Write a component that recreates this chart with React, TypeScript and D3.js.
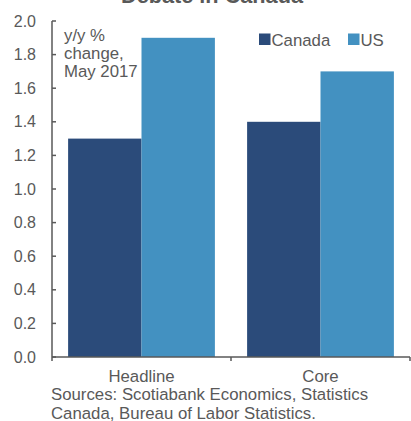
import React from "react";
import * as d3 from "d3";

const categories = ["Headline", "Core"];
const seriesNames = ["Canada", "US"];
const canadaValues = [1.3, 1.4];
const usValues = [1.9, 1.7];
const yTicks = [0, 0.2, 0.4, 0.6, 0.8, 1.0, 1.2, 1.4, 1.6, 1.8, 2.0];
const colors = ["#2B4B7A", "#4391C1"];

const W = 411, H = 421;
const left = 52, right = 410, top = 21, bottom = 357;
const FONT = "'Liberation Sans', Arial, sans-serif";
const GRAY = "#595959";
const FS = 16.8;

export default function App() {
  const y = d3.scaleLinear().domain([0, 2]).range([bottom, top]);
  const x = d3.scaleBand<string>().domain(categories).range([left, right]).paddingInner(0.18).paddingOuter(0.09);
  const xOuter = d3.scaleBand<string>().domain(categories).range([left, right]);
  const xs = d3.scaleBand<string>().domain(seriesNames).range([0, x.bandwidth()]);
  const data = [canadaValues, usValues];

  return (
    <svg width={W} height={H} style={{ position: "absolute", left: 0, top: 0 }} fontFamily={FONT}>
      <text x={212} y={3} textAnchor="middle" fontSize={21.7} fontWeight="bold" fill={GRAY}>Debate in Canada</text>
      {categories.map((c, i) =>
        seriesNames.map((s, j) => {
          const v = data[j][i];
          return (
            <rect key={c + s} x={x(c)! + xs(s)!} y={y(v)} width={xs.bandwidth()} height={y(0) - y(v)} fill={colors[j]} />
          );
        })
      )}
      {/* y axis */}
      <line x1={left} x2={left} y1={top} y2={bottom} stroke={GRAY} strokeWidth={1.5} />
      {yTicks.map((t) => (
        <g key={t}>
          <line x1={left} x2={left + 4} y1={y(t)} y2={y(t)} stroke={GRAY} strokeWidth={1.5} />
          <text x={36} y={y(t)} dy="0.35em" textAnchor="end" fontSize={16} fill={GRAY}>{t.toFixed(1)}</text>
        </g>
      ))}
      {/* x axis */}
      <line x1={left} x2={right} y1={bottom} y2={bottom} stroke={GRAY} strokeWidth={1.5} />
      {[...categories.map((c) => xOuter(c)!), right].map((px, i) => (
        <line key={i} x1={px} x2={px} y1={bottom} y2={bottom + 4} stroke={GRAY} strokeWidth={1.5} />
      ))}
      {categories.map((c) => (
        <text key={c} x={xOuter(c)! + xOuter.bandwidth() / 2} y={381.5} textAnchor="middle" fontSize={FS} fill={GRAY}>{c}</text>
      ))}
      {/* annotation */}
      <text fontSize={FS} fill={GRAY}>
        <tspan x={64} y={40.5}>y/y %</tspan>
        <tspan x={64} y={58.5}>change,</tspan>
        <tspan x={64} y={77}>May 2017</tspan>
      </text>
      {/* legend */}
      {[[259, "Canada"], [348, "US"]].map(([lx, name], j) => (
        <g key={name as string}>
          <rect x={lx as number} y={33.5} width={11.5} height={11.5} fill={colors[j]} />
          <text x={(lx as number) + 12.5} y={45.5} fontSize={FS} fill={GRAY}>{name}</text>
        </g>
      ))}
      {/* sources */}
      <text fontSize={FS} fill={GRAY}>
        <tspan x={51} y={399.5}>Sources: Scotiabank Economics, Statistics</tspan>
        <tspan x={51} y={418.5}>Canada, Bureau of Labor Statistics.</tspan>
      </text>
    </svg>
  );
}
